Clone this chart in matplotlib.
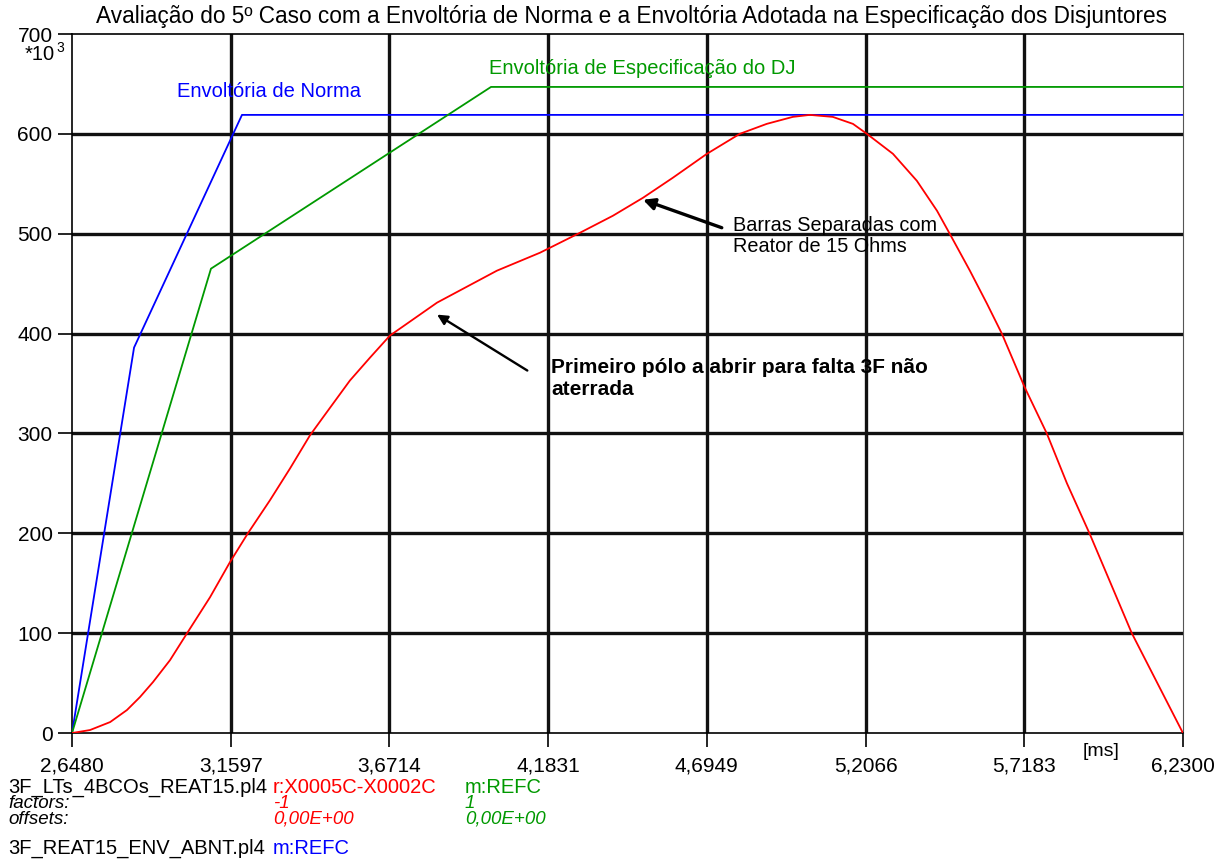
import matplotlib
matplotlib.use("Agg")
import matplotlib.pyplot as plt

plt.rcParams['font.family'] = ['Liberation Sans', 'DejaVu Sans']

# data (x in ms, y in *10^3)
norma_x = [2.648, 2.848, 3.196, 6.230]
norma_y = [0, 386, 619, 619]

dj_x = [2.648, 3.096, 3.999, 6.230]
dj_y = [0, 465, 647, 647]

red_x = [2.648, 2.706, 2.771, 2.825, 2.867, 2.909, 2.964, 3.019, 3.093, 3.157,
         3.215, 3.286, 3.351, 3.415, 3.457, 3.544, 3.609, 3.673, 3.825, 4.018,
         4.157, 4.286, 4.392, 4.489, 4.585, 4.695, 4.801, 4.888, 4.972, 5.027,
         5.101, 5.166, 5.211, 5.295, 5.372, 5.437, 5.478, 5.543, 5.598, 5.646,
         5.720, 5.791, 5.856, 5.930, 6.065, 6.230]
red_y = [0, 3, 11, 23, 36, 51, 73, 100, 136, 171,
         200, 233, 265, 298, 316, 353, 376, 398, 431, 463,
         481, 501, 518, 536, 556, 580, 600, 610, 617, 619,
         617, 610, 600, 580, 553, 523, 500, 463, 430, 400,
         346, 300, 250, 199, 100, 0]

x_ticks = [2.6480, 3.1597, 3.6714, 4.1831, 4.6949, 5.2066, 5.7183, 6.2300]
x_labels = ['2,6480', '3,1597', '3,6714', '4,1831', '4,6949', '5,2066', '5,7183', '6,2300']
y_ticks = [0, 100, 200, 300, 400, 500, 600, 700]
y_labels = ['0', '100', '200', '300', '400', '500', '600', '700']

blue = '#0000ff'
green = '#009900'
red = '#ff0000'

fig = plt.figure(figsize=(12.27, 8.63), dpi=100)
ax = fig.add_axes([0.0587, 0.1506, 0.9054, 0.81])

# grid
for xt in x_ticks[1:-1]:
    ax.axvline(xt, color='#111111', lw=2.4, zorder=1)
for yt in y_ticks[1:-1]:
    ax.axhline(yt, color='#111111', lw=2.4, zorder=1)

ax.plot(norma_x, norma_y, color=blue, lw=1.3, zorder=3)
ax.plot(dj_x, dj_y, color=green, lw=1.3, zorder=3)
ax.plot(red_x, red_y, color=red, lw=1.3, zorder=3)

ax.set_xlim(2.648, 6.23)
ax.set_ylim(0, 700)
ax.set_xticks(x_ticks)
ax.set_xticklabels(x_labels)
ax.set_yticks(y_ticks)
ax.set_yticklabels(y_labels)
ax.tick_params(axis='both', direction='out', length=10, width=1.2, labelsize=15)
ax.tick_params(axis='x', pad=7)
ax.tick_params(axis='y', pad=4)
for s in ax.spines.values():
    s.set_linewidth(1.2)
ax.spines['right'].set_color('#555555')
ax.spines['right'].set_linewidth(0.8)

fig.text(632 / 1227, 1 - 17 / 863,
         'Avaliação do 5º Caso com a Envoltória de Norma e a Envoltória Adotada na Especificação dos Disjuntores',
         fontsize=16.3, ha='center', va='center')

fig.text(25 / 1227, 1 - 54 / 863, '*10', fontsize=14.5, va='center', ha='left')
fig.text(56 / 1227, 1 - 48 / 863, '3', fontsize=10, va='center', ha='left')
fig.text(1083 / 1227, 1 - 751 / 863, '[ms]', fontsize=14, va='center', ha='left')

# curve labels
ax.text(2.986, 642, 'Envoltória de Norma', color=blue, fontsize=14.5, va='center')
ax.text(3.993, 665, 'Envoltória de Especificação do DJ', color=green, fontsize=14.5, va='center')
ax.text(4.780, 498, 'Barras Separadas com\nReator de 15 Ohms', fontsize=14.3, va='center',
        linespacing=1.15)
ax.text(4.192, 355, 'Primeiro pólo a abrir para falta 3F não\naterrada', fontsize=15,
        fontweight='bold', va='center', linespacing=1.2)

ax.annotate('', xy=(4.489, 534), xytext=(4.743, 506),
            arrowprops=dict(arrowstyle='-|>', color='black', lw=2.4, mutation_scale=17,
                            shrinkA=0, shrinkB=0))
ax.annotate('', xy=(3.825, 419), xytext=(4.116, 363),
            arrowprops=dict(arrowstyle='-|>', color='black', lw=1.7, mutation_scale=15,
                            shrinkA=0, shrinkB=0))

# footer info
def ft(px, py, s, color='black', style='normal', size=14.5):
    fig.text(px / 1227, 1 - py / 863, s, color=color, style=style, fontsize=size,
             va='center', ha='left')

ft(8, 787, '3F_LTs_4BCOs_REAT15.pl4')
ft(273, 787, 'r:X0005C-X0002C', red)
ft(465, 787, 'm:REFC', green)
ft(8, 803, 'factors:', style='italic', size=13.5)
ft(273, 803, '-1', red, 'italic', 13.5)
ft(465, 803, '1', green, 'italic', 13.5)
ft(8, 819, 'offsets:', style='italic', size=13.5)
ft(273, 819, '0,00E+00', red, 'italic', 13.5)
ft(465, 819, '0,00E+00', green, 'italic', 13.5)
ft(8, 848, '3F_REAT15_ENV_ABNT.pl4')
ft(273, 848, 'm:REFC', blue)

fig.savefig('out.png', dpi=100)
